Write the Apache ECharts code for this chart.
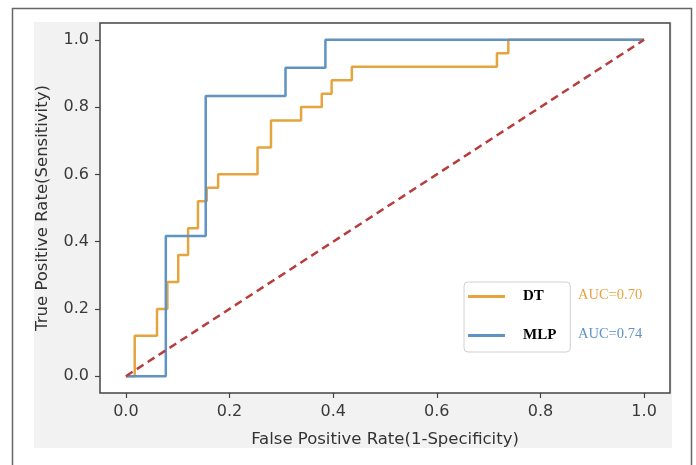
<!DOCTYPE html>
<html><head><meta charset="utf-8">
<script src="https://cdn.jsdelivr.net/npm/echarts@6/dist/echarts.min.js"></script>
<style>html,body{margin:0;padding:0;background:#fff}#c{width:696px;height:465px}</style>
</head><body><div id="c"></div>
<script>
const seriesNames = ['DT', 'MLP'];
const aucValues = [0.70, 0.74];
const dtFpr = [0, 0.017, 0.017, 0.060, 0.060, 0.080, 0.080, 0.101, 0.101, 0.120, 0.120, 0.139, 0.139, 0.156, 0.156, 0.178, 0.178, 0.254, 0.254, 0.280, 0.280, 0.338, 0.338, 0.378, 0.378, 0.397, 0.397, 0.436, 0.436, 0.716, 0.716, 0.738, 0.738, 1];
const dtTpr = [0, 0, 0.12, 0.12, 0.20, 0.20, 0.28, 0.28, 0.36, 0.36, 0.44, 0.44, 0.52, 0.52, 0.56, 0.56, 0.60, 0.60, 0.68, 0.68, 0.76, 0.76, 0.80, 0.80, 0.84, 0.84, 0.88, 0.88, 0.92, 0.92, 0.96, 0.96, 1.0, 1.0];
const mlpFpr = [0, 0.077, 0.077, 0.154, 0.154, 0.308, 0.308, 0.385, 0.385, 1];
const mlpTpr = [0, 0, 0.417, 0.417, 0.833, 0.833, 0.917, 0.917, 1.0, 1.0];
const chanceFpr = [0, 1];
const chanceTpr = [0, 1];
const tickValues = [0, 0.2, 0.4, 0.6, 0.8, 1.0];

const colors = ['#e6a43e', '#5e93c3'];
const zip = (a, b) => a.map((v, i) => [v, b[i]]);
const axisFont = 'DejaVu Sans';
const legendFont = 'Liberation Serif, Times New Roman, serif';

function makeAxis(name, nameGap) {
  return {
    type: 'value', min: -0.05, max: 1.05,
    name: name, nameLocation: 'middle', nameGap: nameGap,
    nameTextStyle: { fontFamily: axisFont, fontSize: 16.5, color: '#333' },
    axisLine: { show: false, onZero: false },
    splitLine: { show: false },
    axisTick: { show: true, length: 5, customValues: tickValues, lineStyle: { color: '#444', width: 1.2 } },
    axisLabel: { customValues: tickValues, formatter: v => v.toFixed(1), fontFamily: axisFont, fontSize: 16, color: '#3a3a3a', margin: 11 }
  };
}

const gridBox = { left: 100, top: 23, width: 570, height: 370 };
const fig = { x0: 34, y0: 22, x1: 672, y1: 448 };
const gx0 = gridBox.left, gy0 = gridBox.top, gx1 = gridBox.left + gridBox.width, gy1 = gridBox.top + gridBox.height;
const figBg = '#f2f2f2';
// figure background drawn as four strips around the white plotting area
const strips = [
  { x: fig.x0, y: fig.y0, width: gx0 - fig.x0, height: fig.y1 - fig.y0 },
  { x: gx1, y: fig.y0, width: fig.x1 - gx1, height: fig.y1 - fig.y0 },
  { x: gx0, y: fig.y0, width: gx1 - gx0, height: gy0 - fig.y0 },
  { x: gx0, y: gy1, width: gx1 - gx0, height: fig.y1 - gy1 }
].map(s => ({ type: 'rect', z: -10, silent: true, shape: s, style: { fill: figBg } }));

const chart = echarts.init(document.getElementById('c'), null, { renderer: 'canvas' });
chart.setOption({
  animation: false,
  backgroundColor: '#fff',
  grid: { left: gridBox.left, top: gridBox.top, width: gridBox.width, height: gridBox.height, show: true, borderColor: '#444', borderWidth: 1.5 },
  xAxis: makeAxis('False Positive Rate(1-Specificity)', 38),
  yAxis: makeAxis('True Positive Rate(Sensitivity)', 49),
  legend: {
    orient: 'vertical', left: 464, top: 282,
    data: seriesNames.map(n => ({ name: n, icon: 'rect' })),
    itemWidth: 37, itemHeight: 3, itemGap: 24,
    padding: [7, 14, 9, 4],
    borderColor: '#d0d0d0', borderWidth: 1, borderRadius: 4, backgroundColor: '#fff',
    selectedMode: false,
    textStyle: { fontFamily: legendFont, fontWeight: 'bold', fontSize: 15, color: '#000', lineHeight: 15, padding: [0, 0, 0, 13] }
  },
  graphic: strips.concat([
    { type: 'rect', z: -9, silent: true, shape: { x: 12.5, y: 8.5, width: 679, height: 500 }, style: { fill: null, stroke: '#666', lineWidth: 1.5 } },
    { type: 'text', left: 578, top: 288, style: { text: 'AUC=' + aucValues[0].toFixed(2), fill: colors[0], font: '14.5px ' + legendFont } },
    { type: 'text', left: 578, top: 327, style: { text: 'AUC=' + aucValues[1].toFixed(2), fill: colors[1], font: '14.5px ' + legendFont } }
  ]),
  series: [
    { name: seriesNames[0], type: 'line', data: zip(dtFpr, dtTpr), showSymbol: false, symbol: 'none', color: colors[0], lineStyle: { color: colors[0], width: 2.5 }, z: 2 },
    { name: seriesNames[1], type: 'line', data: zip(mlpFpr, mlpTpr), showSymbol: false, symbol: 'none', color: colors[1], lineStyle: { color: colors[1], width: 2.5 }, z: 3 },
    { name: 'chance', type: 'line', data: zip(chanceFpr, chanceTpr), showSymbol: false, symbol: 'none', color: '#b83c3c', lineStyle: { color: '#b83c3c', width: 2.5, type: [8, 5] }, z: 4 }
  ]
});
</script>
</body></html>
